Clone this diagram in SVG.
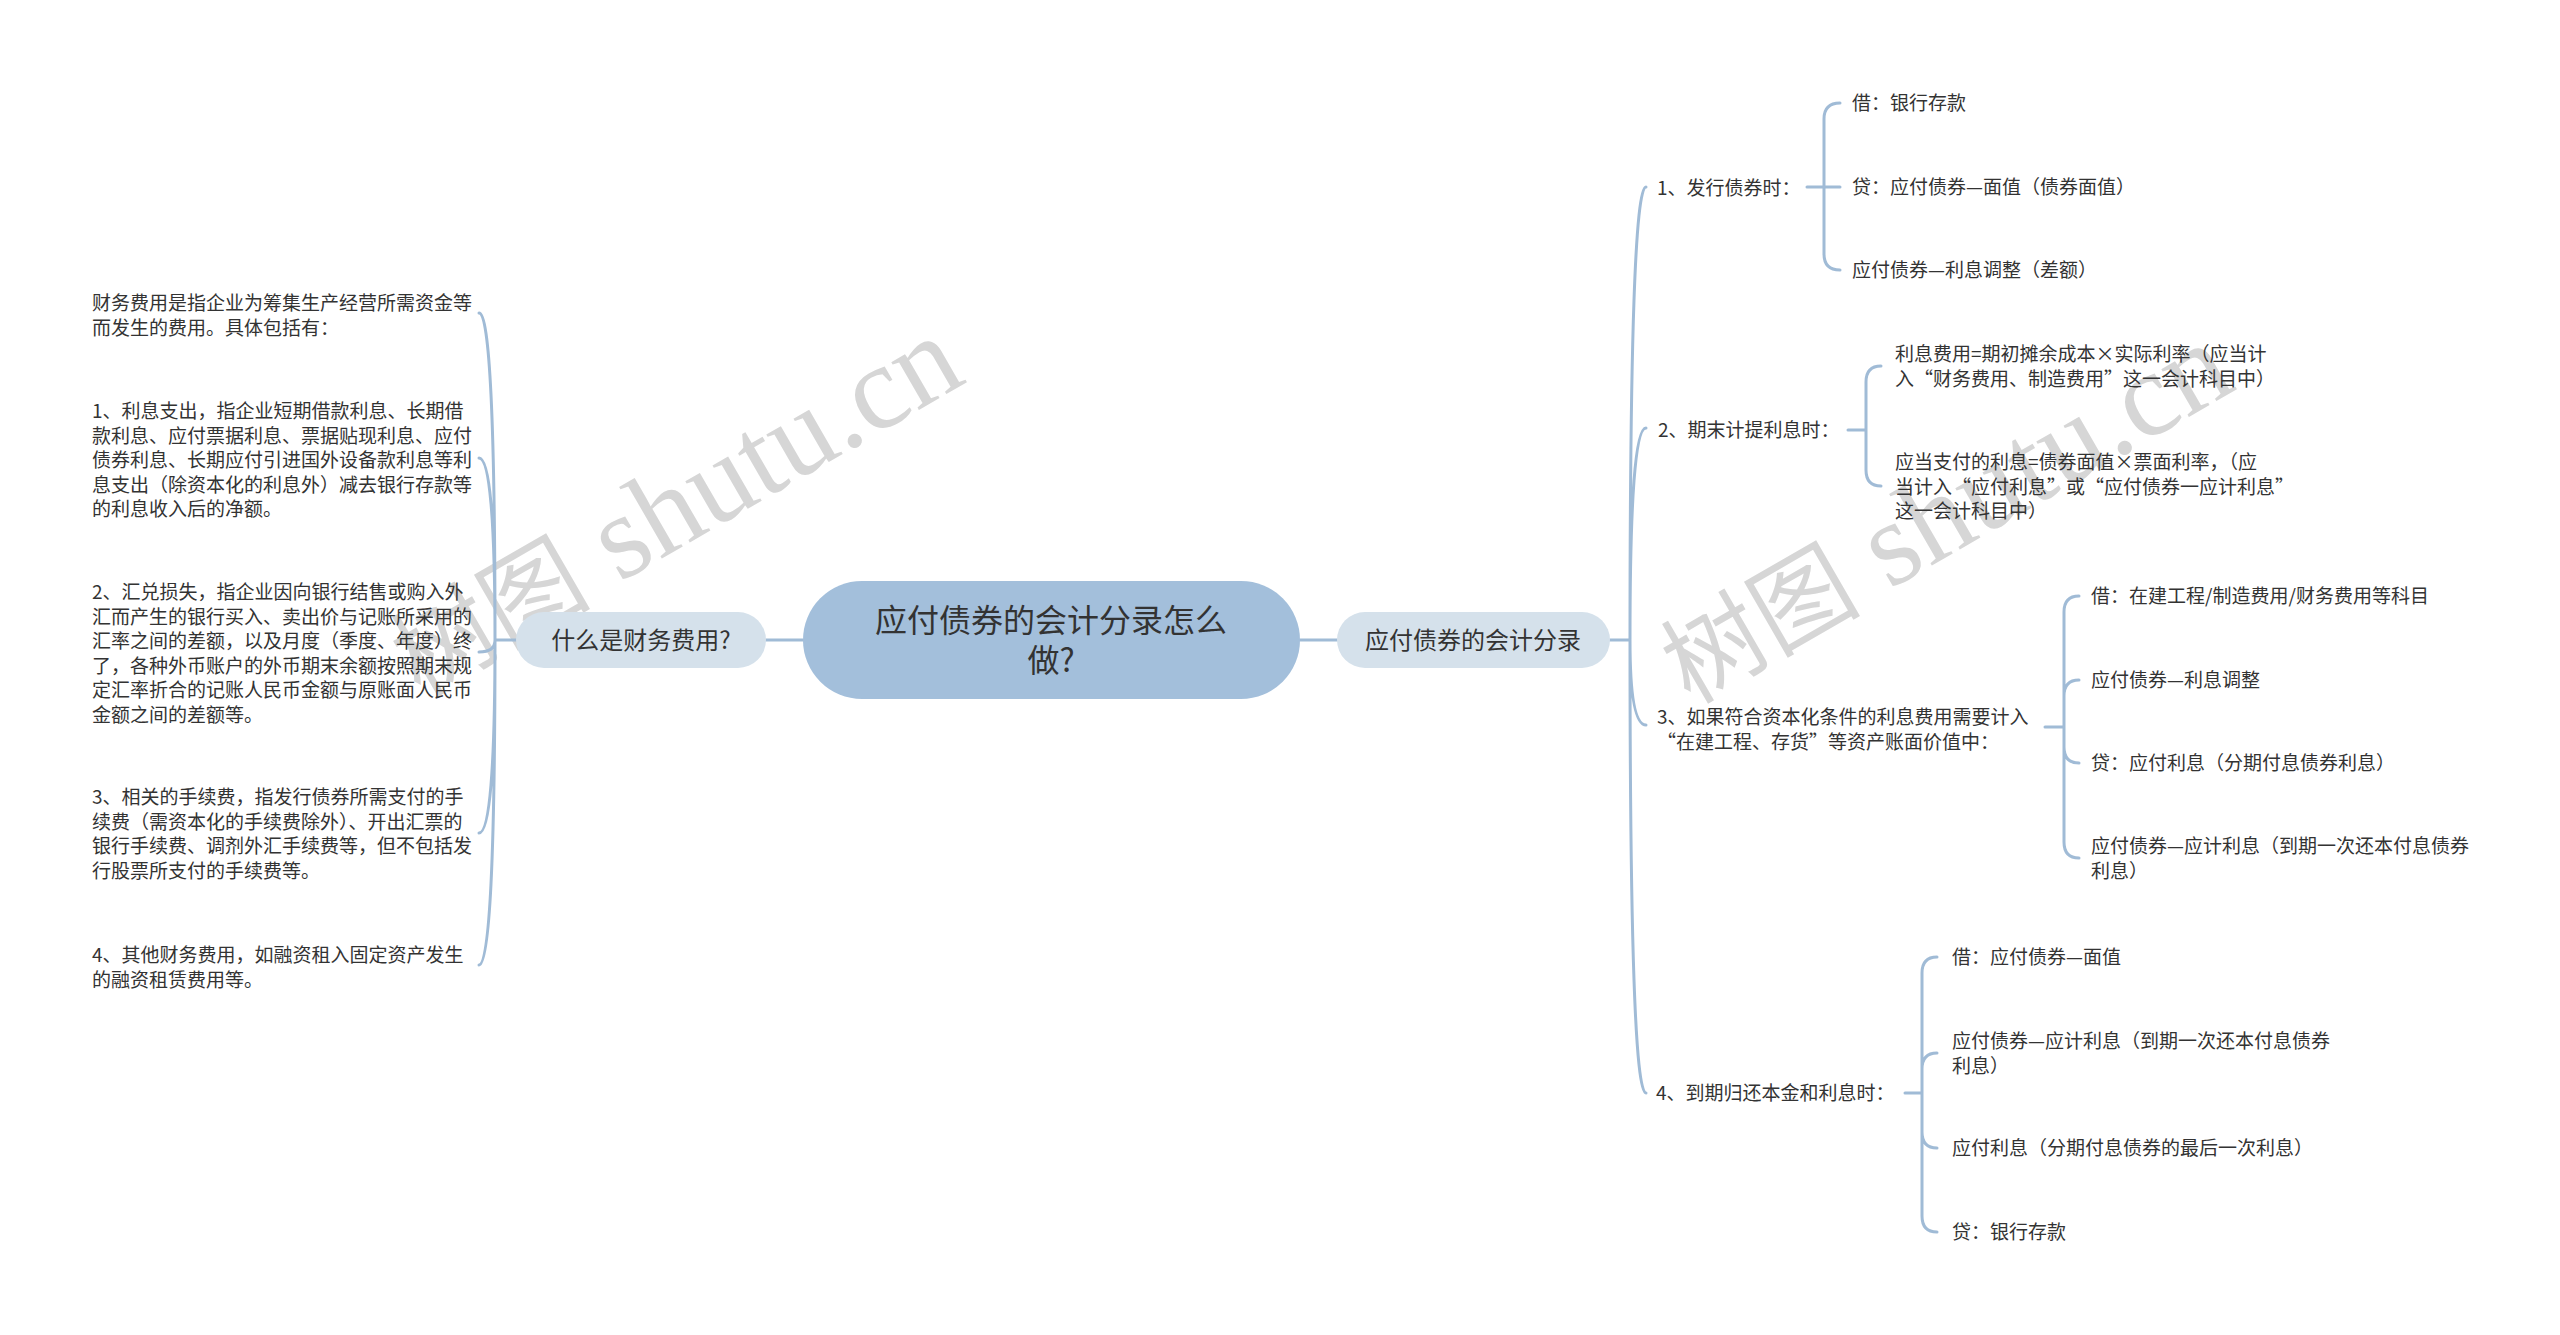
<svg xmlns="http://www.w3.org/2000/svg" width="2560" height="1335" viewBox="0 0 2560 1335">
<style>
.t{font-family:"Noto Sans CJK SC","Noto Sans",sans-serif;font-size:19px;fill:#333}
.n{font-family:"Noto Sans CJK SC","Noto Sans",sans-serif;font-size:24px;fill:#333;text-anchor:middle}
.c{font-family:"Noto Sans CJK SC","Noto Sans",sans-serif;font-size:32px;fill:#333;text-anchor:middle}
.wm{font-family:"Liberation Serif","Noto Sans CJK SC",serif;font-size:120px;fill:#d6d6d6}
.wc{font-family:"Noto Sans CJK SC",sans-serif;font-size:100px}
.ln{fill:none;stroke:#a0bbd6;stroke-width:3;stroke-linecap:round}
</style>
<rect width="2560" height="1335" fill="#ffffff"/>
<g id="watermarks">
<text class="wm" transform="translate(420 698) rotate(-30)"><tspan class="wc">树图</tspan> shutu.cn</text>
<text class="wm" transform="translate(1690 705) rotate(-30)"><tspan class="wc">树图</tspan> shutu.cn</text>
</g>
<g id="connectors" class="ln">
<path class="ln" d="M766 640L803 640M1300 640L1337 640"/>
<path class="ln" d="M516 640L495 640M495 640Q495 313 479 313M495 640Q495 458 479 458M495 640Q495 652 479 652M495 640Q495 833 479 833M495 640Q495 965 479 965"/>
<path class="ln" d="M1610 640L1630 640M1630 640Q1630 187 1646 187M1630 640Q1630 428 1646 428M1630 640Q1630 725 1646 725M1630 640Q1630 1093 1646 1093"/>
<path class="ln" d="M1807 187L1840 187M1824 187L1824 119Q1824 103 1840 103M1824 187L1824 254Q1824 270 1840 270"/>
<path class="ln" d="M1848 430L1866 430M1866 430L1866 382Q1866 366 1881 366M1866 430L1866 470Q1866 486 1881 486"/>
<path class="ln" d="M2045 727L2064 727M2064 727L2064 612Q2064 596 2079 596M2064 727L2064 696Q2064 680 2079 680M2064 727L2064 747Q2064 763 2079 763M2064 727L2064 842Q2064 858 2079 858"/>
<path class="ln" d="M1905 1093L1922 1093M1922 1093L1922 973Q1922 957 1937 957M1922 1093L1922 1069Q1922 1053 1937 1053M1922 1093L1922 1132Q1922 1148 1937 1148M1922 1093L1922 1216Q1922 1232 1937 1232"/>
</g>
<g id="center">
<rect x="803" y="581" width="497" height="118" rx="59" fill="#a3bfdb"/>
<text class="c" x="1051" y="632">应付债券的会计分录怎么</text>
<text class="c" x="1051" y="672">做?</text>
</g>
<g id="left-topic">
<rect x="516" y="612" width="250" height="56" rx="28" fill="#d5e1eb"/>
<text class="n" x="641" y="649">什么是财务费用?</text>
</g>
<g id="right-topic">
<rect x="1337" y="612" width="273" height="56" rx="28" fill="#d5e1eb"/>
<text class="n" x="1473" y="649">应付债券的会计分录</text>
</g>
<g id="left-1"><text class="t" x="92" y="310"><tspan x="92">财务费用是指企业为筹集生产经营所需资金等</tspan><tspan x="92" dy="24.5">而发生的费用。具体包括有：</tspan></text></g>
<g id="left-2"><text class="t" x="92" y="418"><tspan x="92">1、利息支出，指企业短期借款利息、长期借</tspan><tspan x="92" dy="24.5">款利息、应付票据利息、票据贴现利息、应付</tspan><tspan x="92" dy="24.5">债券利息、长期应付引进国外设备款利息等利</tspan><tspan x="92" dy="24.5">息支出（除资本化的利息外）减去银行存款等</tspan><tspan x="92" dy="24.5">的利息收入后的净额。</tspan></text></g>
<g id="left-3"><text class="t" x="92" y="599"><tspan x="92">2、汇兑损失，指企业因向银行结售或购入外</tspan><tspan x="92" dy="24.5">汇而产生的银行买入、卖出价与记账所采用的</tspan><tspan x="92" dy="24.5">汇率之间的差额，以及月度（季度、年度）终</tspan><tspan x="92" dy="24.5">了，各种外币账户的外币期末余额按照期末规</tspan><tspan x="92" dy="24.5">定汇率折合的记账人民币金额与原账面人民币</tspan><tspan x="92" dy="24.5">金额之间的差额等。</tspan></text></g>
<g id="left-4"><text class="t" x="92" y="804"><tspan x="92">3、相关的手续费，指发行债券所需支付的手</tspan><tspan x="92" dy="24.5">续费（需资本化的手续费除外）、开出汇票的</tspan><tspan x="92" dy="24.5">银行手续费、调剂外汇手续费等，但不包括发</tspan><tspan x="92" dy="24.5">行股票所支付的手续费等。</tspan></text></g>
<g id="left-5"><text class="t" x="92" y="962"><tspan x="92">4、其他财务费用，如融资租入固定资产发生</tspan><tspan x="92" dy="24.5">的融资租赁费用等。</tspan></text></g>
<g id="r1"><text class="t" x="1657" y="195">1、发行债券时：</text></g>
<g id="r1-1"><text class="t" x="1852" y="110">借：银行存款</text></g>
<g id="r1-2"><text class="t" x="1852" y="194">贷：应付债券—面值（债券面值）</text></g>
<g id="r1-3"><text class="t" x="1852" y="277">应付债券—利息调整（差额）</text></g>
<g id="r2"><text class="t" x="1658" y="437">2、期末计提利息时：</text></g>
<g id="r2-1"><text class="t" x="1895" y="361"><tspan x="1895">利息费用=期初摊余成本×实际利率（应当计</tspan><tspan x="1895" dy="24.5">入“财务费用、制造费用”这一会计科目中）</tspan></text></g>
<g id="r2-2"><text class="t" x="1895" y="469"><tspan x="1895">应当支付的利息=债券面值×票面利率，（应</tspan><tspan x="1895" dy="24.5">当计入“应付利息”或“应付债券一应计利息”</tspan><tspan x="1895" dy="24.5">这一会计科目中）</tspan></text></g>
<g id="r3"><text class="t" x="1657" y="724"><tspan x="1657">3、如果符合资本化条件的利息费用需要计入</tspan><tspan x="1657" dy="24.5">“在建工程、存货”等资产账面价值中：</tspan></text></g>
<g id="r3-1"><text class="t" x="2091" y="603">借：在建工程/制造费用/财务费用等科目</text></g>
<g id="r3-2"><text class="t" x="2091" y="687">应付债券—利息调整</text></g>
<g id="r3-3"><text class="t" x="2091" y="770">贷：应付利息（分期付息债券利息）</text></g>
<g id="r3-4"><text class="t" x="2091" y="853"><tspan x="2091">应付债券—应计利息（到期一次还本付息债券</tspan><tspan x="2091" dy="24.5">利息）</tspan></text></g>
<g id="r4"><text class="t" x="1656" y="1100">4、到期归还本金和利息时：</text></g>
<g id="r4-1"><text class="t" x="1952" y="964">借：应付债券—面值</text></g>
<g id="r4-2"><text class="t" x="1952" y="1048"><tspan x="1952">应付债券—应计利息（到期一次还本付息债券</tspan><tspan x="1952" dy="24.5">利息）</tspan></text></g>
<g id="r4-3"><text class="t" x="1952" y="1155">应付利息（分期付息债券的最后一次利息）</text></g>
<g id="r4-4"><text class="t" x="1952" y="1239">贷：银行存款</text></g>
</svg>
